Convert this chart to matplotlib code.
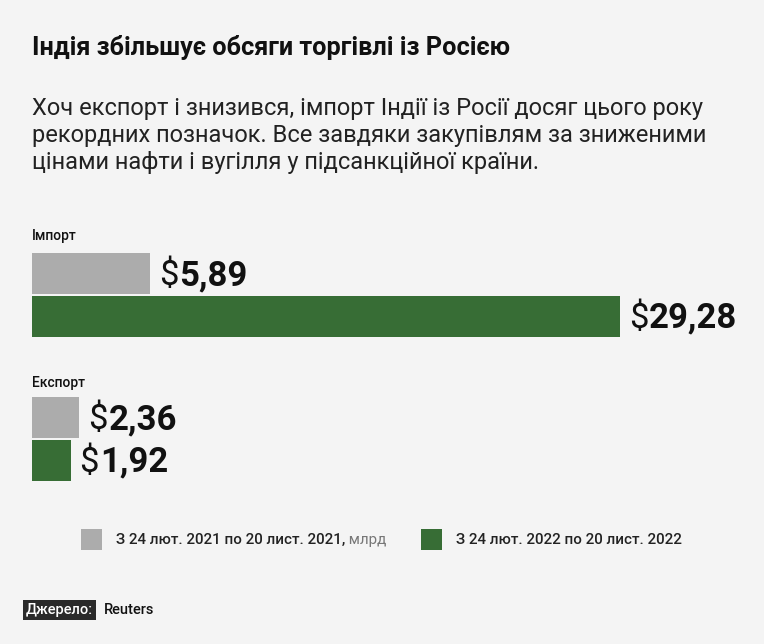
import matplotlib.pyplot as plt
from matplotlib.patches import Rectangle

# data (млрд дол.)
groups = ['Імпорт', 'Експорт']
values_2021 = [5.89, 2.36]
values_2022 = [29.28, 1.92]
labels_2021 = ['5,89', '2,36']
labels_2022 = ['29,28', '1,92']
legend_labels = ['З 24 лют. 2021 по 20 лист. 2021,', 'З 24 лют. 2022 по 20 лист. 2022']

grey = '#acacac'
green = '#376d35'
bg = '#f4f4f4'
reg = ['Roboto', 'DejaVu Sans']

W, H = 764, 644
fig = plt.figure(figsize=(W / 100, H / 100), dpi=100, facecolor=bg)
ax = fig.add_axes([0, 0, 1, 1])
ax.set_facecolor(bg)
scale = 20.08  # px per billion
ax.set_xlim(-32 / scale, (W - 32) / scale)
ax.set_ylim(H, 0)
ax.axis('off')

# layout (pixel rows)
group_top = [253, 397]
bar_h = 41
gap = 1.5
group_label_y = [236, 383]

for i, g in enumerate(groups):
    y1 = group_top[i] + bar_h / 2
    y2 = y1 + bar_h + gap
    ax.barh(y1, values_2021[i], height=bar_h, color=grey, left=0)
    ax.barh(y2, values_2022[i], height=bar_h, color=green, left=0)
    ax.text(0, group_label_y[i], g, fontsize=10, family=reg, fontweight='medium',
            va='center', ha='left', color='#111111')
    for y, v, lab in [(y1, values_2021[i], labels_2021[i]), (y2, values_2022[i], labels_2022[i])]:
        t = ax.text(v + 9 / scale, y + 2, '$', fontsize=25, family=reg, va='center',
                    ha='left', color='#111111')
        ax.annotate(lab, xy=(1, 0), xycoords=t, xytext=(0.5, 0), textcoords='offset points',
                    fontsize=25, family=reg, fontweight='bold', va='bottom', ha='left',
                    color='#111111')

# title & subtitle
fig.text(32 / W, 1 - 48 / H, 'Індія збільшує обсяги торгівлі із Росією', fontsize=18.2,
         family=reg, fontweight='bold', va='center', ha='left', color='#111111')
sub = ['Хоч експорт і знизився, імпорт Індії із Росії досяг цього року',
       'рекордних позначок. Все завдяки закупівлям за зниженими',
       'цінами нафти і вугілля у підсанкційної країни.']
for k, line in enumerate(sub):
    fig.text(32 / W, 1 - (108 + 27.5 * k) / H, line, fontsize=17, family=reg,
             va='center', ha='left', color='#222222')

# legend
lx = [81, 421]
tx = [116, 456]
for k, (c, lab) in enumerate(zip([grey, green], legend_labels)):
    fig.patches.append(Rectangle((lx[k] / W, 1 - 550 / H), 21 / W, 21 / H,
                                 transform=fig.transFigure, facecolor=c, edgecolor='none'))
    t = fig.text(tx[k] / W, 1 - 540 / H, lab, fontsize=10.9, family=reg,
                 fontweight='medium', va='center', ha='left', color='#222222')
    if k == 0:
        ax.annotate(' млрд', xy=(1, 0), xycoords=t, fontsize=10.9, family=reg,
                    color='#777777', va='bottom', ha='left')

# source
fig.text(26 / W, 1 - 610 / H, 'Джерело:', fontsize=10.5, family=reg, fontweight='medium',
         color='white', va='center', ha='left',
         bbox=dict(boxstyle='square,pad=0.2', facecolor='#2a2a2a', edgecolor='none'))
fig.text(104 / W, 1 - 610 / H, 'Reuters', fontsize=10.5, family=reg, fontweight='medium',
         color='#111111', va='center', ha='left')

fig.savefig('out.png', dpi=100, facecolor=bg)
